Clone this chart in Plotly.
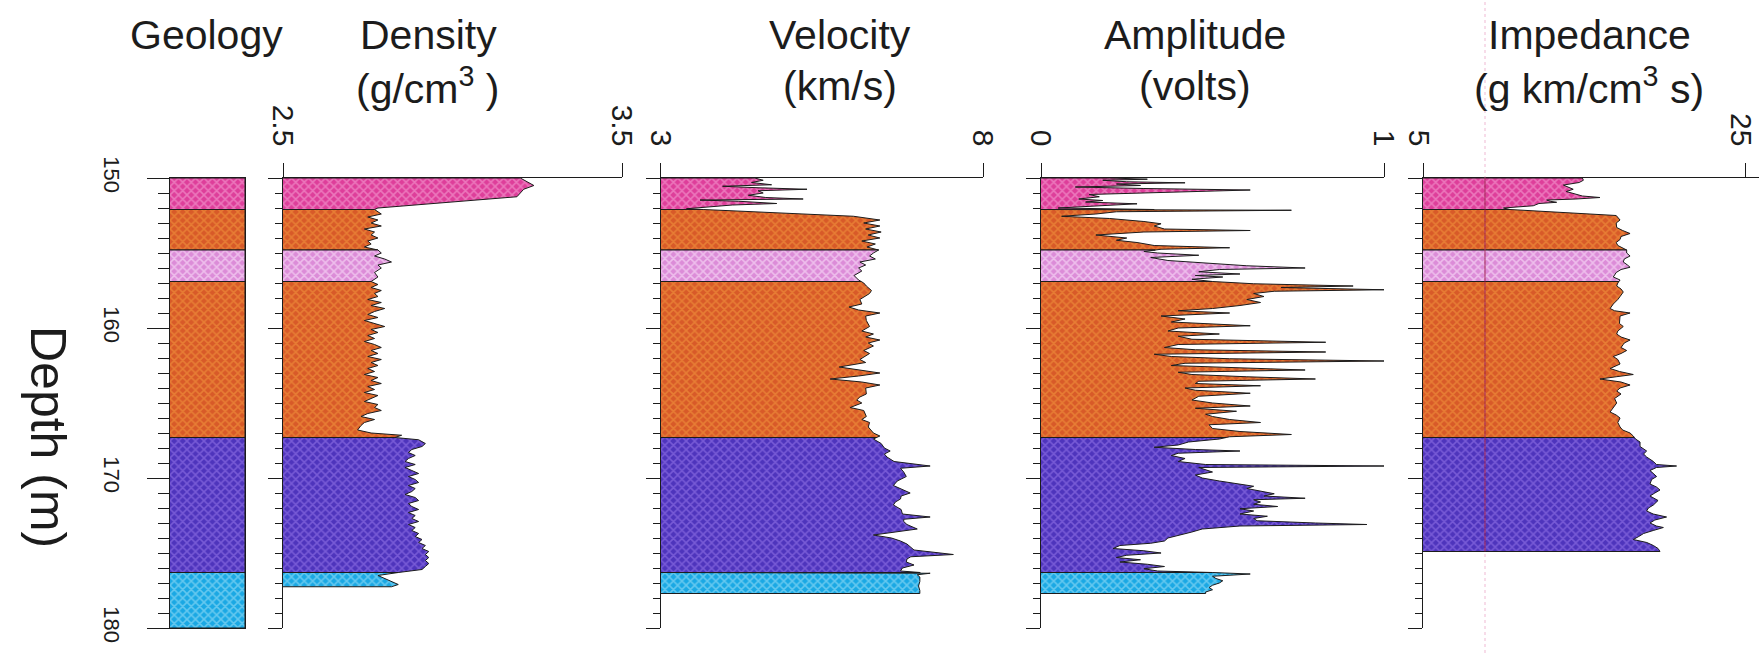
import numpy as np
import plotly.graph_objects as go

W, H = 1759, 653

# ---------------------------------------------------------------- geology
LAYER_TOP = [150.0, 152.1, 154.8, 156.9, 167.3, 176.3]
LAYER_BASE = [152.1, 154.8, 156.9, 167.3, 176.3, 180.0]
LAYER_BG = ["#DE3E9A", "#D85A28", "#DC8CD8", "#D85A28", "#4E34BC", "#1AA8E4"]
LAYER_FG = ["#F8B0DC", "#F5A040", "#FFF0FF", "#F5A040", "#A080F0", "#B0E8FA"]

# ---------------------------------------------------------------- density (g/cm3)
DEN_DEPTH = [150.0, 150.25, 150.5, 150.75, 151.0, 151.25, 152.0, 152.1, 152.4, 152.6,
             152.8, 153.0, 153.2, 153.4, 153.6, 153.8, 154.0, 154.2, 154.4, 154.6,
             154.8, 155.0, 155.2, 155.4, 155.6, 155.8, 156.0, 156.3, 156.6, 156.9,
             157.1, 157.3, 157.5, 157.7, 157.9, 158.1, 158.3, 158.5, 158.7, 158.9,
             159.1, 159.3, 159.5, 159.7, 159.9, 160.1, 160.3, 160.5, 160.7, 160.9,
             161.1, 161.3, 161.5, 161.7, 161.9, 162.1, 162.3, 162.5, 162.7, 162.9,
             163.1, 163.3, 163.5, 163.7, 163.9, 164.1, 164.3, 164.5, 164.7, 164.9,
             165.1, 165.3, 165.5, 165.7, 165.9, 166.1, 166.3, 166.5, 166.8, 167.0,
             167.15, 167.3, 167.45, 167.7, 167.9, 168.1, 168.3, 168.5, 168.7, 168.9,
             169.1, 169.3, 169.5, 169.7, 169.9, 170.1, 170.3, 170.5, 170.7, 170.9,
             171.1, 171.3, 171.5, 171.7, 171.9, 172.1, 172.3, 172.5, 172.7, 172.9,
             173.1, 173.3, 173.5, 173.7, 173.9, 174.1, 174.3, 174.5, 174.7, 174.9,
             175.1, 175.3, 175.5, 175.7, 175.9, 176.1, 176.3, 176.5, 176.7, 176.9,
             177.1, 177.25]
DEN_VALUE = [3.20, 3.22, 3.24, 3.21, 3.20, 3.19, 2.78, 2.77, 2.79, 2.75,
             2.78, 2.76, 2.79, 2.74, 2.77, 2.76, 2.78, 2.75, 2.76, 2.74,
             2.78, 2.79, 2.77, 2.80, 2.82, 2.78, 2.79, 2.77, 2.78, 2.76,
             2.78, 2.76, 2.79, 2.77, 2.78, 2.75, 2.79, 2.76, 2.80, 2.77,
             2.75, 2.78, 2.74, 2.77, 2.80, 2.76, 2.78, 2.75, 2.77, 2.74,
             2.77, 2.79, 2.76, 2.78, 2.75, 2.79, 2.76, 2.78, 2.75, 2.77,
             2.74, 2.78, 2.76, 2.79, 2.75, 2.77, 2.74, 2.78, 2.76, 2.74,
             2.78, 2.77, 2.79, 2.75, 2.73, 2.77, 2.74, 2.73, 2.72, 2.76,
             2.85, 2.83, 2.90, 2.92, 2.91, 2.88, 2.87, 2.89, 2.87, 2.86,
             2.89, 2.86, 2.88, 2.90, 2.87, 2.89, 2.90, 2.87, 2.89, 2.88,
             2.86, 2.89, 2.90, 2.87, 2.88, 2.90, 2.87, 2.89, 2.88, 2.90,
             2.87, 2.89, 2.88, 2.90, 2.89, 2.91, 2.90, 2.92, 2.91, 2.93,
             2.92, 2.93, 2.92, 2.93, 2.92, 2.91, 2.84, 2.78, 2.80, 2.82,
             2.84, 2.82]

# ---------------------------------------------------------------- velocity (km/s)
VEL_DEPTH = [150.0, 150.15, 150.3, 150.45, 150.55, 150.65, 150.75, 150.85, 151.0, 151.15,
             151.3, 151.4, 151.47, 151.55, 151.7, 151.8, 151.95, 152.05, 152.55, 152.8,
             153.0, 153.2, 153.4, 153.6, 153.8, 154.0, 154.2, 154.4, 154.6, 154.8,
             155.0, 155.2, 155.4, 155.6, 155.8, 156.0, 156.2, 156.5, 156.8, 157.0,
             157.2, 157.5, 157.7, 158.1, 158.4, 158.6, 158.8, 159.0, 159.2, 159.5,
             159.9, 160.2, 160.4, 160.6, 160.8, 161.0, 161.2, 161.5, 161.7, 162.1,
             162.3, 162.6, 162.8, 163.0, 163.2, 163.4, 163.6, 163.8, 164.0, 164.4,
             164.6, 164.8, 165.0, 165.3, 165.5, 165.9, 166.1, 166.3, 166.6, 167.0,
             167.2, 167.4, 167.7, 168.0, 168.2, 168.4, 168.6, 168.9, 169.2, 169.35,
             169.6, 169.9, 170.2, 170.5, 170.8, 171.0, 171.2, 171.4, 171.6, 171.8,
             172.1, 172.4, 172.6, 172.75, 172.9, 173.1, 173.4, 173.6, 173.8, 174.0,
             174.2, 174.4, 174.6, 174.8, 175.1, 175.25, 175.4, 175.6, 175.8, 176.0,
             176.2, 176.35, 176.45, 176.6, 176.9, 177.2, 177.5, 177.7]
VEL_VALUE = [4.46, 4.59, 4.41, 4.72, 3.96, 4.51, 5.27, 4.51, 4.59, 4.36,
             4.63, 5.21, 3.61, 4.21, 4.80, 4.11, 3.60, 3.40, 5.99, 6.40,
             6.15, 6.40, 6.18, 6.42, 6.22, 6.40, 6.12, 6.33, 6.20, 6.38,
             6.30, 6.24, 6.33, 6.09, 6.18, 6.07, 6.12, 6.00, 6.07, 6.15,
             6.19, 6.27, 6.24, 6.09, 6.12, 5.92, 6.07, 6.40, 6.18, 6.19,
             6.24, 6.12, 6.30, 6.18, 6.40, 6.22, 6.30, 6.15, 6.24, 6.09,
             6.18, 5.77, 6.12, 6.40, 6.07, 5.63, 6.12, 6.40, 6.18, 6.19,
             6.09, 6.04, 6.12, 5.94, 6.15, 6.19, 6.12, 6.24, 6.22, 6.30,
             6.40, 6.30, 6.42, 6.47, 6.56, 6.47, 6.51, 6.62, 7.18, 6.72,
             6.77, 6.81, 6.67, 6.61, 6.78, 6.87, 6.73, 6.72, 6.64, 6.61,
             6.73, 6.75, 7.18, 6.77, 6.77, 6.82, 6.98, 6.62, 6.30, 6.58,
             6.72, 6.82, 6.87, 6.93, 7.54, 6.88, 6.82, 6.81, 6.93, 6.75,
             6.72, 7.18, 6.98, 7.02, 7.02, 7.00, 7.02, 7.02]

# ---------------------------------------------------------------- amplitude (volts)
AMP_DEPTH = [150.0, 150.08, 150.15, 150.25, 150.32, 150.4, 150.5, 150.6, 150.7, 150.8,
             150.9, 151.0, 151.1, 151.25, 151.4, 151.5, 151.6, 151.72, 151.85, 152.0,
             152.1, 152.15, 152.25, 152.4, 152.55, 152.7, 152.9, 153.05, 153.2, 153.4,
             153.5, 153.6, 153.8, 154.0, 154.15, 154.3, 154.5, 154.65, 154.75, 154.9,
             155.0, 155.15, 155.3, 155.5, 155.7, 155.85, 156.0, 156.1, 156.25, 156.4,
             156.5, 156.6, 156.75, 156.9, 157.05, 157.2, 157.3, 157.45, 157.55, 157.7,
             157.9, 158.1, 158.3, 158.5, 158.7, 158.85, 159.0, 159.2, 159.4, 159.6,
             159.85, 160.0, 160.2, 160.4, 160.55, 160.75, 160.95, 161.1, 161.3, 161.45,
             161.6, 161.75, 161.9, 162.05, 162.2, 162.35, 162.5, 162.65, 162.8, 162.95,
             163.1, 163.25, 163.4, 163.55, 163.7, 163.85, 164.0, 164.15, 164.35, 164.55,
             164.8, 165.0, 165.2, 165.35, 165.55, 165.75, 165.9, 166.1, 166.3, 166.45,
             166.7, 166.9, 167.1, 167.25, 167.4, 167.6, 167.8, 167.95, 168.1, 168.2,
             168.35, 168.5, 168.7, 168.9, 169.1, 169.2, 169.3, 169.45, 169.6, 169.8,
             170.0, 170.2, 170.4, 170.55, 170.7, 170.9, 171.05, 171.2, 171.35, 171.45,
             171.6, 171.75, 171.9, 172.05, 172.2, 172.4, 172.55, 172.7, 172.85, 173.0,
             173.1, 173.2, 173.4, 173.6, 173.8, 174.0, 174.2, 174.35, 174.5, 174.7,
             174.85, 175.0, 175.15, 175.3, 175.45, 175.6, 175.75, 175.9, 176.05, 176.2,
             176.3, 176.4, 176.55, 176.7, 176.85, 177.0, 177.15, 177.3, 177.45, 177.6,
             177.7]
AMP_VALUE = [0.20, 0.31, 0.18, 0.25, 0.42, 0.22, 0.29, 0.10, 0.30, 0.61,
             0.45, 0.22, 0.14, 0.17, 0.11, 0.18, 0.13, 0.28, 0.15, 0.05,
             0.33, 0.73, 0.22, 0.16, 0.06, 0.20, 0.30, 0.35, 0.33, 0.36,
             0.61, 0.30, 0.16, 0.25, 0.22, 0.28, 0.33, 0.55, 0.35, 0.30,
             0.34, 0.46, 0.32, 0.37, 0.50, 0.60, 0.77, 0.52, 0.46, 0.58,
             0.45, 0.53, 0.44, 0.50, 0.62, 0.91, 0.70, 1.00, 0.68, 0.62,
             0.65, 0.60, 0.64, 0.58, 0.50, 0.40, 0.55, 0.35, 0.42, 0.38,
             0.61, 0.40, 0.37, 0.52, 0.40, 0.44, 0.83, 0.40, 0.36, 0.45,
             0.83, 0.33, 0.38, 0.55, 1.00, 0.42, 0.38, 0.55, 0.77, 0.40,
             0.44, 0.60, 0.80, 0.46, 0.45, 0.64, 0.42, 0.45, 0.61, 0.46,
             0.44, 0.50, 0.61, 0.45, 0.57, 0.48, 0.50, 0.55, 0.64, 0.49,
             0.50, 0.58, 0.73, 0.55, 0.52, 0.43, 0.40, 0.33, 0.45, 0.58,
             0.40, 0.38, 0.42, 0.40, 0.48, 1.00, 0.46, 0.48, 0.50, 0.45,
             0.47, 0.52, 0.58, 0.62, 0.60, 0.64, 0.68, 0.65, 0.77, 0.62,
             0.64, 0.62, 0.69, 0.58, 0.62, 0.58, 0.66, 0.62, 0.63, 0.80,
             0.95, 0.58, 0.47, 0.44, 0.40, 0.37, 0.36, 0.32, 0.23, 0.21,
             0.30, 0.35, 0.25, 0.22, 0.29, 0.23, 0.31, 0.36, 0.30, 0.34,
             0.50, 0.61, 0.50, 0.51, 0.53, 0.52, 0.50, 0.49, 0.50, 0.48,
             0.48]

# ---------------------------------------------------------------- impedance (g km / cm3 s)
IMP_DEPTH = [150.0, 150.15, 150.3, 150.47, 150.6, 150.75, 150.9, 151.05, 151.2, 151.3,
             151.4, 151.47, 151.55, 151.62, 151.7, 151.85, 152.0, 152.1, 152.5, 152.8,
             153.0, 153.3, 153.5, 153.7, 153.9, 154.1, 154.3, 154.5, 154.8, 155.0,
             155.2, 155.4, 155.6, 155.8, 155.95, 156.1, 156.3, 156.6, 156.8, 157.0,
             157.2, 157.4, 157.6, 157.9, 158.1, 158.4, 158.7, 158.85, 159.0, 159.2,
             159.5, 159.7, 159.9, 160.2, 160.4, 160.6, 160.8, 161.0, 161.1, 161.3,
             161.5, 161.7, 161.9, 162.1, 162.4, 162.7, 162.9, 163.1, 163.25, 163.4,
             163.6, 163.8, 164.0, 164.2, 164.4, 164.7, 165.0, 165.2, 165.6, 165.8,
             166.0, 166.3, 166.6, 166.8, 167.0, 167.2, 167.4, 167.6, 167.9, 168.2,
             168.4, 168.6, 168.9, 169.1, 169.2, 169.3, 169.5, 169.7, 169.9, 170.1,
             170.4, 170.6, 170.8, 171.0, 171.2, 171.5, 171.8, 172.0, 172.2, 172.4,
             172.6, 172.8, 173.0, 173.2, 173.3, 173.5, 173.7, 173.9, 174.1, 174.3,
             174.5, 174.7, 174.9]
IMP_VALUE = [14.90, 14.96, 14.70, 13.72, 14.00, 14.33, 13.90, 14.50, 14.90, 15.99,
             14.50, 12.68, 12.90, 13.30, 12.20, 11.85, 10.00, 10.40, 17.00, 17.24,
             17.00, 17.03, 17.40, 17.86, 17.30, 17.24, 17.00, 17.10, 17.65, 17.65,
             17.86, 17.50, 17.44, 17.70, 17.86, 17.30, 17.00, 16.82, 17.24, 17.10,
             17.03, 17.30, 17.44, 17.24, 17.10, 16.82, 16.62, 16.90, 17.86, 17.24,
             17.24, 17.20, 17.44, 17.10, 17.03, 17.30, 17.86, 17.50, 17.44, 17.30,
             17.65, 17.30, 16.82, 17.10, 17.24, 16.62, 17.20, 18.06, 17.00, 15.99,
             17.30, 17.86, 17.24, 17.03, 17.30, 16.90, 17.03, 16.90, 16.62, 17.00,
             17.24, 17.10, 17.24, 17.40, 17.86, 18.06, 18.20, 18.48, 18.48, 18.89,
             18.70, 18.89, 19.31, 19.50, 20.75, 19.50, 19.10, 19.30, 19.51, 19.20,
             19.10, 19.50, 19.72, 19.40, 19.10, 19.60, 19.31, 19.00, 18.89, 19.30,
             20.13, 19.40, 19.10, 19.50, 19.93, 19.30, 18.70, 18.40, 18.06, 18.90,
             19.31, 19.60, 19.72]

DEPTH_TICKS = [150, 160, 170, 180]

FONT = "Liberation Sans, Arial, Helvetica, sans-serif"
INK = "#1c1c1c"
LW = 1.3


def fx(px0, px1):
    return [px0 / W, px1 / W]


def py(px):
    return 1 - px / H


Y_DOMAIN = [py(628), py(178)]

# panel layout: (axis suffix, pixel span, value range, tick values, tick text,
#                label shift, data)
PANELS = [
    ("2", (283, 622), (2.5, 3.5), [2.5, 3.5], ["2.5", "3.5"], 0, DEN_DEPTH, DEN_VALUE),
    ("3", (660.7, 983), (3.0, 8.0), [3, 8], ["3", "8"], 0, VEL_DEPTH, VEL_VALUE),
    ("4", (1041, 1384), (0.0, 1.0), [0, 1], ["0", "1"], 0, AMP_DEPTH, AMP_VALUE),
    ("5", (1423, 1759), (5.0, 5.0 + 20 * 336 / 322), [5, 25], ["5", "25"], -4,
     IMP_DEPTH, IMP_VALUE),
]


def layer_patches(depth, value, base):
    """Split a log curve into closed polygons, one per geological layer."""
    depth = np.asarray(depth, float)
    value = np.asarray(value, float)
    out = []
    for k, (top, bot) in enumerate(zip(LAYER_TOP, LAYER_BASE)):
        d0, d1 = max(top, depth[0]), min(bot, depth[-1])
        if d1 <= d0:
            continue
        inner = (depth > d0) & (depth < d1)
        ys = np.r_[d0, d0, depth[inner], d1, d1]
        xs = np.r_[base, np.interp(d0, depth, value), value[inner],
                   np.interp(d1, depth, value), base]
        out.append((k, xs, ys))
    return out


def patch_trace(k, xs, ys, xa, ya):
    return go.Scatter(
        x=xs, y=ys, xaxis=xa, yaxis=ya, mode="lines", fill="toself",
        fillcolor=LAYER_BG[k],
        fillpattern=dict(shape="x", bgcolor=LAYER_BG[k], fgcolor=LAYER_FG[k],
                         size=6, solidity=0.45),
        line=dict(color="#1c1c1c", width=1),
        hoverinfo="skip", showlegend=False,
    )


fig = go.Figure()

# geology column
for k, (top, bot) in enumerate(zip(LAYER_TOP, LAYER_BASE)):
    fig.add_trace(patch_trace(k, [0, 1, 1, 0], [top, top, bot, bot], "x", "y"))

# log panels
for suf, _, rng, _, _, _, dep, val in PANELS:
    for k, xs, ys in layer_patches(dep, val, rng[0]):
        fig.add_trace(patch_trace(k, xs, ys, "x" + suf, "y" + suf))

axis_common = dict(showgrid=False, zeroline=False, showline=True, linecolor=INK,
                   linewidth=LW, tickcolor=INK, tickwidth=LW, automargin=False)

layout = dict(
    width=W, height=H, margin=dict(l=0, r=0, t=0, b=0, pad=0, autoexpand=False),
    paper_bgcolor="white", plot_bgcolor="rgba(0,0,0,0)",
    font=dict(family=FONT, color=INK),
    xaxis=dict(domain=fx(170, 245), anchor="y", range=[0, 1], mirror=True,
               ticks="", showticklabels=False, **axis_common),
    yaxis=dict(domain=Y_DOMAIN, anchor="x", range=[180, 150], mirror=True,
               ticks="outside", tickmode="array", tickvals=DEPTH_TICKS,
               ticktext=[str(t) for t in DEPTH_TICKS], ticklen=22,
               minor=dict(ticks="outside", dtick=1, tick0=150, ticklen=11,
                          tickcolor=INK, tickwidth=LW),
               tickangle=90, tickfont=dict(size=22), ticklabelstandoff=16,
               **axis_common),
)

for suf, (p0, p1), rng, tv, tt, shift, _, _ in PANELS:
    layout["xaxis" + suf] = dict(
        domain=fx(p0, p1), anchor="y" + suf, side="top", range=list(rng),
        tickmode="array", tickvals=tv, ticktext=tt, ticks="outside", ticklen=14,
        tickangle=90, tickfont=dict(size=30), ticklabelstandoff=6,
        ticklabelshift=shift, ticklabeloverflow="allow", **axis_common)
    layout["yaxis" + suf] = dict(
        domain=Y_DOMAIN, anchor="x" + suf, range=[180, 150],
        ticks="outside", tickmode="array", tickvals=DEPTH_TICKS, ticklen=14,
        minor=dict(ticks="outside", dtick=1, tick0=150, ticklen=7,
                   tickcolor=INK, tickwidth=LW),
        showticklabels=False, **axis_common)

fig.update_layout(**layout)

# column headings: (first line, second line, centre x in px)
TITLES = [
    ("Geology", None, 206),
    ("Density", "(g/cm<sup>3</sup> )", 428),
    ("Velocity", "(km/s)", 840),
    ("Amplitude", "(volts)", 1195),
    ("Impedance", "(g km/cm<sup>3</sup> s)", 1589),
]
for line1, line2, xc in TITLES:
    fig.add_annotation(text=line1, x=xc / W, y=py(35), xref="paper", yref="paper",
                       xanchor="center", yanchor="middle", showarrow=False,
                       font=dict(size=41, family=FONT, color=INK))
    if line2:
        fig.add_annotation(text=line2, x=xc / W, y=py(86), xref="paper", yref="paper",
                           xanchor="center", yanchor="middle", showarrow=False,
                           font=dict(size=41, family=FONT, color=INK))

fig.add_annotation(text="Depth (m)", x=48 / W, y=py(437), xref="paper", yref="paper",
                   xanchor="center", yanchor="middle", textangle=90, showarrow=False,
                   font=dict(size=50, family=FONT, color=INK))

# faint vertical crease running through the impedance column
fig.add_shape(type="line", xref="paper", yref="paper", x0=1485 / W, x1=1485 / W,
              y0=0, y1=1, line=dict(color="rgba(225,130,175,0.55)", width=1, dash="dot"))
fig.add_shape(type="line", xref="x5", yref="y5", x0=8.85, x1=8.85, y0=150, y1=174.9,
              line=dict(color="rgba(150,20,70,0.55)", width=1.5))

fig.write_html("out.html")
